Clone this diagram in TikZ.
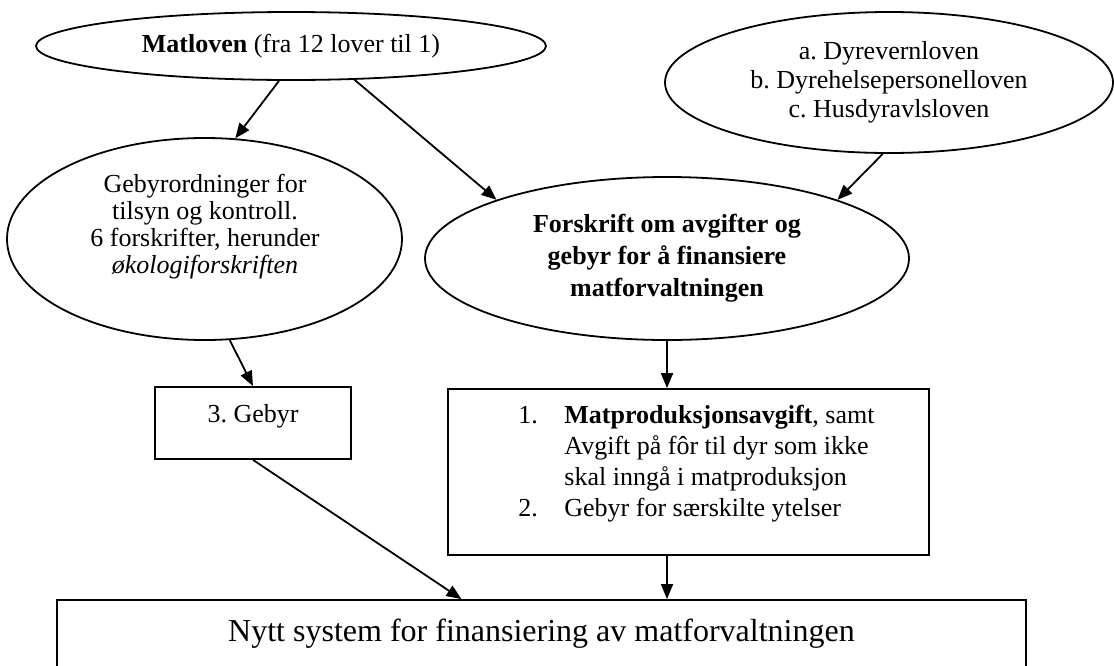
\documentclass[tikz,border=0pt]{standalone}
\usepackage{fontspec}
\setmainfont{Liberation Serif}
\frenchspacing
\usetikzlibrary{shapes.geometric,arrows.meta,calc}

\begin{document}
\begin{tikzpicture}[x=0.5pt,y=-0.5pt]
\tikzstyle{lov}=[draw, ellipse, line width=0.9pt, inner sep=0pt];
\tikzstyle{kasse}=[draw, rectangle, line width=0.9pt, inner sep=0pt];
\tikzstyle{tekst}=[align=center, font=\fontsize{13}{14.5}\selectfont];
\tikzstyle{pil}=[-{Triangle[length=7.5pt,width=6pt]}, line width=0.9pt];

\useasboundingbox (0,0) rectangle (1114,665);

\node[lov, tekst, minimum width=255pt, minimum height=34pt] (matloven) at (291,46) {\textbf{Matloven} (fra 12 lover til 1)};
\node[lov, tekst, minimum width=224pt, minimum height=70.5pt] (dyrelover) at (889,82.5) {a. Dyrevernloven\\ b. Dyrehelsepersonelloven\\ c. Husdyravlsloven};

\node[lov, minimum width=197.5pt, minimum height=101pt] (gebyr) at (204.5,239) {};
\node[tekst, font=\fontsize{13}{13.5}\selectfont] (gebyrtekst) at (205,227) {Gebyrordninger for\\ tilsyn og kontroll.\\ 6 forskrifter, herunder\\ \textit{økologiforskriften}};
\node[lov, tekst, font=\fontsize{13}{16}\selectfont\bfseries, minimum width=242pt, minimum height=81.5pt] (forskrift) at (667,258.5) {Forskrift om avgifter og\\ gebyr for å finansiere\\ matforvaltningen};

\node[kasse, tekst, minimum width=98pt, minimum height=36pt, text depth=10pt] (gebyrboks) at (253,423) {3. Gebyr};
\node[kasse, minimum width=240.5pt, minimum height=83pt] (avgiftboks) at (688.5,472) {};
\node[anchor=west, inner sep=0pt, font=\fontsize{13}{15.5}\selectfont] (avgifttekst) at (518,464) {\begin{tabular}{@{}p{23pt}@{}l@{}}
1. & \textbf{Matproduksjonsavgift}, samt\\
   & Avgift på fôr til dyr som ikke\\
   & skal inngå i matproduksjon\\
2. & Gebyr for særskilte ytelser
\end{tabular}};

\node[kasse, font=\fontsize{16}{19}\selectfont, minimum width=484.5pt, minimum height=34pt] (finansiering) at (541.5,634) {Nytt system for finansiering av matforvaltningen};

\draw[pil] (matloven.-109) -- (gebyr.73);
\draw[pil] (matloven.-28) -- (forskrift.161);
\draw[pil] (dyrelover.-95) -- (forskrift.19);
\draw[pil] (gebyr.-76) -- (gebyrboks.north);
\draw[pil] (forskrift.south) -- (forskrift.south |- avgiftboks.north);
\draw[pil] (gebyrboks.south) -- ($(finansiering.north)+(-80,0)$);
\draw[pil] (forskrift.south |- avgiftboks.south) -- (forskrift.south |- finansiering.north);
\end{tikzpicture}
\end{document}
